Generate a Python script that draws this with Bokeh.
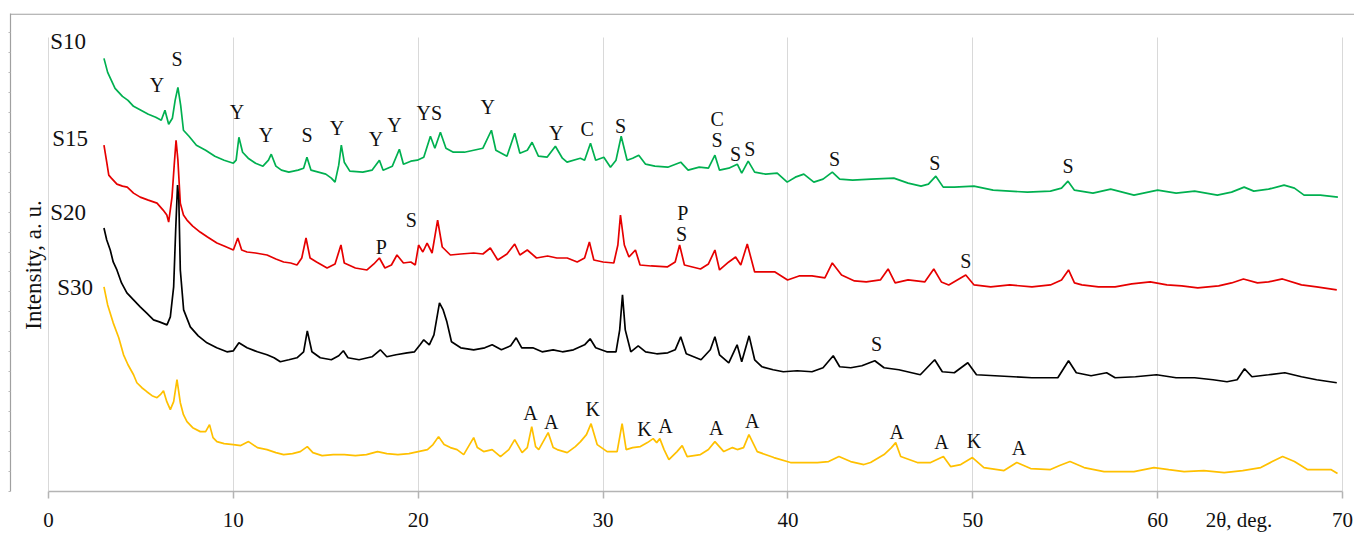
import math
from bokeh.plotting import figure
from bokeh.models import (Range1d, FixedTicker, LabelSet, Label, ColumnDataSource, LinearAxis, Grid, Span)
from bokeh.embed import file_html
from bokeh.resources import INLINE

FONT = "Liberation Serif"

# ---- data (2theta in degrees, intensity in a.u.) ----
s10_x = [3.0, 3.2, 3.4, 3.6, 3.8, 4.0, 4.3, 4.6, 5.0, 5.4, 5.8, 6.1, 6.3, 6.5, 6.7, 6.85, 7.0, 7.15, 7.3, 7.6,
         8.0, 8.5, 9.0, 9.5, 10.0, 10.15, 10.3, 10.5, 10.8, 11.2, 11.6, 11.9, 12.05, 12.3, 12.6, 13.0, 13.5, 13.8,
         13.98, 14.2, 14.6, 15.0, 15.3, 15.5, 15.7, 15.84, 16.0, 16.3, 17.0, 17.5, 17.9, 18.1, 18.6, 18.98, 19.2,
         19.6, 19.95, 20.3, 20.66, 20.9, 21.2, 21.5, 21.9, 22.5, 23.0, 23.5, 23.96, 24.2, 24.8, 25.22, 25.5, 25.9,
         26.16, 26.5, 26.97, 27.42, 27.8, 28.05, 28.77, 29.0, 29.32, 29.6, 30.04, 30.4, 30.7, 30.98, 31.3, 31.6,
         31.93, 32.3, 32.8, 33.5, 34.2, 34.6, 35.2, 35.7, 36.05, 36.3, 36.8, 37.26, 37.5, 37.85, 38.2, 38.8, 39.42,
         39.96, 40.4, 40.86, 41.4, 41.9, 42.4, 42.8, 43.5, 44.5, 45.73, 46.5, 47.2, 47.6, 48.0, 48.4, 49.0, 50.06,
         51.1, 52.0, 52.95, 54.2, 54.8, 55.15, 55.5, 56.5, 57.46, 58.72, 60.0, 61.0, 62.0, 63.23, 64.0, 64.68,
         65.2, 66.0, 66.84, 67.4, 67.92, 68.8, 69.75]
s10_y = [434, 420, 412, 404, 400, 396, 392, 386, 382, 378, 375, 372, 382, 368, 374, 392, 405, 387, 362, 356,
         347, 342, 336, 332, 329, 332, 355, 340, 334, 329, 326, 332, 338, 326, 322, 320, 322, 324,
         335, 322, 320, 318, 314, 310, 327, 347, 330, 321, 320, 322, 332, 322, 326, 343, 328,
         331, 332, 335, 356, 344, 360, 344, 340, 340, 342, 344, 362, 342, 336, 359, 339, 342,
         350, 336, 335, 346, 334, 330, 334, 332, 349, 332, 335, 325, 332, 356, 332, 334,
         337, 328, 326, 325, 330, 322, 325, 324, 337, 322, 324, 328, 319, 331, 320, 318, 319,
         310, 315, 318, 310, 313, 320, 313, 312, 313, 314, 309, 306, 308, 316, 305, 305, 306,
         302, 301, 300, 301, 304, 311, 302, 299, 303, 297, 302, 299, 301, 297, 300, 305,
         301, 303, 307, 304, 297, 297, 295]

s15_x = [3.0, 3.15, 3.26, 3.4, 3.7, 4.0, 4.26, 4.6, 4.96, 5.4, 5.87, 6.2, 6.4, 6.5, 6.68, 6.8, 6.9, 7.0, 7.13,
         7.3, 7.49, 7.8, 8.2, 8.6, 9.11, 9.5, 10.0, 10.24, 10.45, 10.74, 11.2, 11.82, 12.3, 12.72, 13.1, 13.44,
         13.7, 13.93, 14.15, 14.5, 15.07, 15.5, 15.82, 16.0, 16.6, 17.23, 17.6, 17.9, 18.2, 18.55, 18.85, 19.2,
         19.6, 19.84, 20.02, 20.25, 20.48, 20.75, 21.05, 21.3, 21.74, 22.3, 23.0, 23.5, 23.9, 24.3, 24.8, 25.22,
         25.5, 25.9, 26.4, 27.0, 27.5, 28.06, 28.6, 29.0, 29.26, 29.5, 30.0, 30.58, 30.8, 30.94, 31.15, 31.4,
         31.75, 32.0, 32.6, 33.47, 33.9, 34.14, 34.4, 35.27, 35.7, 36.05, 36.3, 36.8, 37.17, 37.45, 37.8, 38.2,
         38.8, 39.3, 39.98, 40.6, 41.3, 42.0, 42.4, 42.9, 43.6, 44.24, 45.0, 45.42, 45.8, 46.5, 47.4,
         47.89, 48.3, 48.7, 49.62, 50.07, 50.97, 52.0, 53.2, 54.2, 54.8, 55.18, 55.5, 55.9, 56.8, 57.7, 58.6,
         59.6, 60.5, 61.3, 62.17, 63.3, 64.0, 64.64, 65.4, 66.0, 66.75, 67.78, 68.6, 69.69]
s15_y = [347, 330, 317, 314, 308, 306, 305, 299, 295, 292, 289, 282, 277, 270, 295, 327, 352, 332, 289,
         277, 272, 266, 260, 255, 249, 246, 242, 254, 242, 240, 239, 237, 233, 230, 229, 227,
         234, 254, 234, 230, 224, 228, 247, 229, 224, 222, 228, 234, 224, 227, 237, 229,
         230, 227, 247, 240, 249, 239, 272, 245, 237, 238, 239, 238, 244, 232, 238, 248,
         237, 242, 234, 236, 234, 234, 230, 234, 250, 232, 230, 229, 247, 277, 247, 235,
         242, 227, 226, 225, 230, 247, 227, 223, 228, 242, 222, 230, 235, 227, 248, 220,
         220, 220, 212, 216, 216, 214, 229, 217, 211, 210, 212, 223, 209, 212, 210,
         223, 210, 207, 217, 207, 205, 207, 205, 207, 212, 222, 209, 207, 205, 205, 208,
         210, 207, 206, 204, 206, 209, 213, 209, 210, 213, 207, 205, 202]

s20_x = [3.0, 3.15, 3.34, 3.5, 3.7, 3.95, 4.24, 4.6, 4.96, 5.3, 5.68, 6.0, 6.41, 6.59, 6.77, 6.88, 6.98, 7.05,
         7.13, 7.31, 7.67, 8.1, 8.57, 9.1, 9.65, 10.0, 10.3, 10.74, 11.3, 11.82, 12.2, 12.54, 13.0, 13.44, 13.8,
         14.0, 14.25, 14.7, 15.3, 15.7, 15.95, 16.2, 16.8, 17.5, 17.95, 18.3, 18.8, 19.4, 19.8, 20.1, 20.3, 20.6,
         20.85, 21.15, 21.35, 21.55, 21.8, 22.3, 23.0, 23.6, 24.0, 24.5, 25.0, 25.3, 25.6, 26.2, 26.7, 27.3, 27.8,
         28.4, 29.0, 29.3, 29.6, 30.2, 30.7, 30.9, 31.05, 31.2, 31.5, 31.9, 32.3, 32.9, 33.5, 33.9, 34.2, 34.5,
         35.3, 35.8, 36.05, 36.3, 36.8, 37.25, 37.5, 37.9, 38.2, 38.6, 39.2, 39.75, 40.5, 41.3, 41.9, 42.45,
         42.8, 43.4, 44.0, 44.7, 45.2, 46.0, 47.16, 47.94, 48.35, 49.0, 49.73, 50.2, 51.2, 52.2, 53.2, 54.6,
         55.18, 55.6, 56.4, 57.24, 57.7, 58.8, 59.94, 61.0, 62.0, 63.0, 63.75, 64.3, 64.7, 65.1, 66.0, 66.88,
         67.78, 68.6, 69.69]
s20_y = [264, 252, 242, 230, 222, 209, 199, 192, 185, 179, 172, 170, 167, 175, 205, 262, 307, 292,
         222, 182, 165, 156, 149, 144, 140, 141, 149, 144, 140, 137, 134, 130, 132, 134, 140,
         161, 140, 134, 132, 136, 141, 134, 132, 135, 142, 135, 137, 139, 140, 147, 152, 147,
         157, 189, 182, 170, 150, 144, 142, 144, 147, 142, 146, 154, 144, 144, 140, 142, 140,
         142, 147, 153, 144, 140, 140, 162, 197, 162, 140, 146, 140, 138, 139, 142, 155, 138,
         132, 142, 155, 137, 129, 147, 130, 156, 132, 125, 122, 120, 121, 120, 124, 136,
         125, 124, 126, 131, 124, 122, 117, 132, 120, 119, 129, 117, 116, 115, 114, 114,
         131, 119, 116, 119, 114, 115, 117, 114, 114, 112, 110, 112, 123, 115, 117, 119,
         115, 112, 109]

s30_x = [3.0, 3.2, 3.5, 3.8, 4.06, 4.3, 4.6, 4.78, 5.05, 5.32, 5.6, 5.87, 6.05, 6.22, 6.4, 6.59, 6.77, 6.95,
         7.13, 7.3, 7.49, 7.8, 8.21, 8.5, 8.71, 8.9, 9.11, 9.5, 10.0, 10.4, 10.82, 11.3, 11.82, 12.3, 12.72,
         13.2, 13.62, 14.0, 14.3, 14.8, 15.4, 16.0, 16.6, 17.2, 17.8, 18.3, 18.9, 19.5, 20.0, 20.5, 20.8, 21.1,
         21.4, 21.74, 22.1, 22.46, 23.0, 23.2, 23.54, 24.0, 24.45, 24.9, 25.22, 25.62, 25.9, 26.14, 26.35,
         26.52, 27.03, 27.3, 27.52, 28.06, 28.5, 28.78, 29.1, 29.35, 29.68, 30.22, 30.76, 31.03, 31.25, 31.6,
         32.02, 32.4, 32.71, 32.9, 33.07, 33.3, 33.56, 34.0, 34.28, 34.55, 35.27, 35.7, 36.05, 36.53, 37.0,
         37.26, 37.6, 37.89, 38.34, 39.24, 40.14, 40.8, 41.59, 42.2, 42.76, 43.39, 44.11, 44.47, 45.2, 45.6,
         45.83, 46.1, 47.0, 47.72, 48.41, 48.8, 49.35, 49.98, 50.6, 51.69, 52.38, 53.13, 54.2, 54.7, 55.26,
         56.02, 57.1, 58.72, 59.8, 60.6, 61.43, 62.5, 63.6, 64.6, 65.58, 66.2, 66.76, 67.4, 68.1, 68.8, 69.37,
         69.73]
s30_y = [205, 187, 169, 154, 137, 127, 117, 109, 104, 100, 96, 94, 97, 101, 90, 82, 90, 112,
         89, 77, 70, 64, 60, 60, 67, 54, 50, 48, 47, 46, 50, 44, 42, 39, 37,
         38, 40, 45, 39, 36, 37, 37, 36, 37, 40, 38, 37, 38, 40, 42, 47, 55,
         47, 44, 42, 37, 54, 44, 40, 42, 35, 42, 52, 39, 44, 65, 45,
         42, 59, 44, 42, 39, 45, 50, 57, 68, 47, 40, 40, 68, 42, 44,
         45, 49, 53, 49, 53, 42, 32, 40, 46, 35, 37, 42, 50, 40, 44,
         42, 44, 57, 40, 34, 29, 29, 29, 30, 35, 30, 27, 29, 37, 44,
         49, 35, 29, 29, 35, 25, 27, 34, 24, 21, 29, 23, 22, 26, 30,
         24, 20, 20, 24, 22, 20, 21, 19, 21, 24, 30, 35, 30, 22, 22, 22,
         18]

series_names = ["S10", "S15", "S20", "S30"]
series_colors = ["#00b050", "#e60000", "#000000", "#ffc000"]
name_x = [0.09, 0.2, 0.09, 0.47]
name_y = [451, 354, 280, 204]

# peak annotations
peak_text = ["Y", "S", "Y", "Y", "S", "Y", "Y", "Y", "YS", "Y", "Y", "C", "S", "C", "S", "S", "S", "S", "S", "S",
             "P", "S", "P", "S", "S",
             "S",
             "A", "A", "K", "K", "A", "A", "A", "A", "A", "K", "A"]
peak_x = [5.87, 6.95, 10.20, 11.77, 13.99, 15.61, 17.72, 18.71, 20.6, 23.76, 27.46, 29.14, 30.94, 36.17, 36.17,
          37.17, 37.94, 42.52, 47.94, 55.15,
          18.01, 19.63, 34.31, 34.24, 49.62,
          44.80,
          26.07, 27.19, 29.44, 32.24, 33.38, 36.12, 38.07, 45.88, 48.30, 50.06, 52.50]
peak_y = [407, 433, 380, 357, 357, 364, 353, 367, 379, 385, 359, 363, 366, 373, 352, 338, 343, 333, 329, 326,
          245, 272, 279, 258, 231,
          148,
          79, 70, 83, 63, 66, 64, 71, 60, 50, 51, 44]

x_ticks = [0, 10, 20, 30, 40, 50, 60, 70]
x_title = "2θ, deg."
x_title_pos = 64.4
y_title = "Intensity, a. u."
border_ticks_left = list(range(0, 480, 20))

# frame = outer chart border (canvas x 10..1354, y 13..492); x axis spans 0..70 only
p = figure(width=1354, height=534, output_backend="svg", toolbar_location=None,
           x_range=Range1d(-2.056, 70.649), y_range=Range1d(0, 479),
           min_border_left=10, min_border_right=0, min_border_top=13, min_border_bottom=42,
           x_axis_location=None, y_axis_location=None)
p.outline_line_color = None
p.background_fill_color = "white"
p.border_fill_color = "white"

for xs, ys, c in zip([s10_x, s15_x, s20_x, s30_x], [s10_y, s15_y, s20_y, s30_y], series_colors):
    p.line(xs, ys, line_color=c, line_width=1.7)

# bottom axis
xa = LinearAxis(ticker=FixedTicker(ticks=x_ticks + [x_title_pos], minor_ticks=x_ticks), bounds=(0, 70))
xa.major_label_overrides = {x_title_pos: x_title, str(x_title_pos): x_title}
xa.axis_line_color = "#b4b4b4"
xa.axis_line_width = 1.5
xa.major_tick_line_color = None
xa.major_tick_out = 7
xa.major_tick_in = 0
xa.minor_tick_line_color = "#b4b4b4"
xa.minor_tick_line_width = 1.5
xa.minor_tick_out = 7
xa.minor_tick_in = 0
xa.major_label_text_font = FONT
xa.major_label_text_font_size = "21px"
xa.major_label_text_color = "#111111"
xa.major_label_standoff = 9
p.add_layout(xa, "below")

# left border (with small outward ticks, no labels)
ya = LinearAxis(ticker=FixedTicker(ticks=[], minor_ticks=border_ticks_left))
ya.axis_line_color = "#a0a0a0"
ya.axis_line_width = 1.2
ya.major_tick_line_color = None
ya.major_tick_out = 0
ya.minor_tick_line_color = "#b8b8b8"
ya.minor_tick_out = 2
ya.minor_tick_in = 0
p.add_layout(ya, "left")

# top border line of the chart area
p.add_layout(Span(location=478.3, dimension="width", line_color="#a0a0a0", line_width=1.2))

# vertical grid lines only within the plot area
p.xgrid.visible = False
p.ygrid.visible = False
g = Grid(dimension=0, ticker=FixedTicker(ticks=x_ticks), grid_line_color="#d9d9d9", grid_line_width=1)
try:
    g.cross_bounds = (0, 455)
except Exception:
    pass
p.add_layout(g)

# y title
p.add_layout(Label(x=-0.81, y=227, text=y_title, angle=math.pi / 2, text_font=FONT,
                   text_font_size="23px", text_align="center", text_baseline="middle",
                   text_color="#111111"))

# peak letters
src = ColumnDataSource(dict(x=peak_x, y=peak_y, t=peak_text))
p.add_layout(LabelSet(x="x", y="y", text="t", source=src, text_font=FONT, text_font_size="20px",
                      text_align="center", text_baseline="middle", text_color="#111111"))

# series names
nsrc = ColumnDataSource(dict(x=name_x, y=name_y, t=series_names))
p.add_layout(LabelSet(x="x", y="y", text="t", source=nsrc, text_font=FONT, text_font_size="23px",
                      text_align="left", text_baseline="middle", text_color="#111111"))

open("out.html", "w").write(file_html(p, INLINE))
